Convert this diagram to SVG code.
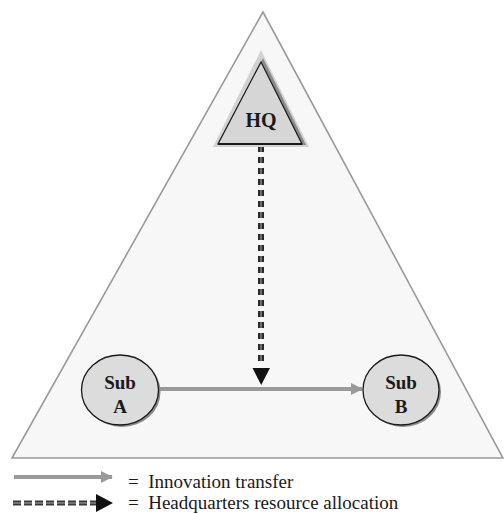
<svg xmlns="http://www.w3.org/2000/svg" width="504" height="514" viewBox="0 0 504 514">
<style>
.lbl{font-family:"Liberation Serif","Times New Roman",serif;font-weight:bold;font-size:19px;fill:#1a1a1a;text-anchor:middle}
.leg{font-family:"Liberation Serif","Times New Roman",serif;font-size:19px;fill:#1a1a1a;white-space:pre}
.node{fill:#dcdcdc;stroke:#1a1a1a;stroke-width:1.3}
.shadow{fill:#8a8a8a}
.gray{stroke:#9a9a9a;stroke-width:4;fill:none}
.dash{stroke:#2a2a2a;stroke-width:6;fill:none;stroke-dasharray:6 5}
.dashc{stroke:#9a9a9a;stroke-width:1.2;fill:none;stroke-dasharray:6 5}
</style>
<defs>
<marker id="ga" markerWidth="12" markerHeight="12" refX="11" refY="6" orient="auto" markerUnits="userSpaceOnUse">
<path d="M0,0 L12,6 L0,12 Z" fill="#9a9a9a"/>
</marker>
</defs>
<rect width="504" height="514" fill="#ffffff"/>
<g id="frame">
<polygon points="263,12 12,458 503,458" fill="#f7f7f7" stroke="#9a9a9a" stroke-width="1.6"/>
</g>
<g id="connectors">
<line x1="160" y1="389" x2="362" y2="389" class="gray" marker-end="url(#ga)"/>
<line x1="261" y1="146" x2="261" y2="366" class="dash"/>
<line x1="261" y1="146" x2="261" y2="366" class="dashc"/>
<polygon points="252.5,368 270,368 261.2,385" fill="#111"/>
</g>
<g id="hq">
<polygon points="261,50 213,147 309,147" fill="#d2d2d2"/>
<polygon points="263,58 306,145 221,145" class="shadow"/>
<polygon points="261,62 218,144 302,144" fill="#d6d6d6" stroke="#1a1a1a" stroke-width="1.2"/>
<line x1="218" y1="144" x2="302" y2="144" stroke="#1a1a1a" stroke-width="2"/>
<text x="261" y="127" class="lbl" style="font-size:20px">HQ</text>
</g>
<g id="subA">
<ellipse cx="122" cy="392" rx="38.5" ry="35" class="shadow"/>
<ellipse cx="120" cy="390" rx="38.5" ry="35" class="node"/>
<text x="120" y="389" class="lbl">Sub</text>
<text x="120" y="413" class="lbl">A</text>
</g>
<g id="subB">
<ellipse cx="403" cy="392" rx="38" ry="35" class="shadow"/>
<ellipse cx="401" cy="390" rx="38" ry="35" class="node"/>
<text x="401" y="389" class="lbl">Sub</text>
<text x="401" y="413" class="lbl">B</text>
</g>
<g id="legend">
<line x1="14" y1="477" x2="112" y2="477" class="gray" marker-end="url(#ga)"/>
<text x="128" y="488" class="leg">=  Innovation transfer</text>
<line x1="13" y1="503" x2="96" y2="503" stroke="#3a3a3a" stroke-width="5" stroke-dasharray="8 3"/>
<line x1="13" y1="503" x2="96" y2="503" stroke="#aaaaaa" stroke-width="1" stroke-dasharray="8 3"/>
<polygon points="96,494 113,503 96,512" fill="#111"/>
<text x="128" y="509" class="leg">=  Headquarters resource allocation</text>
</g>
</svg>
